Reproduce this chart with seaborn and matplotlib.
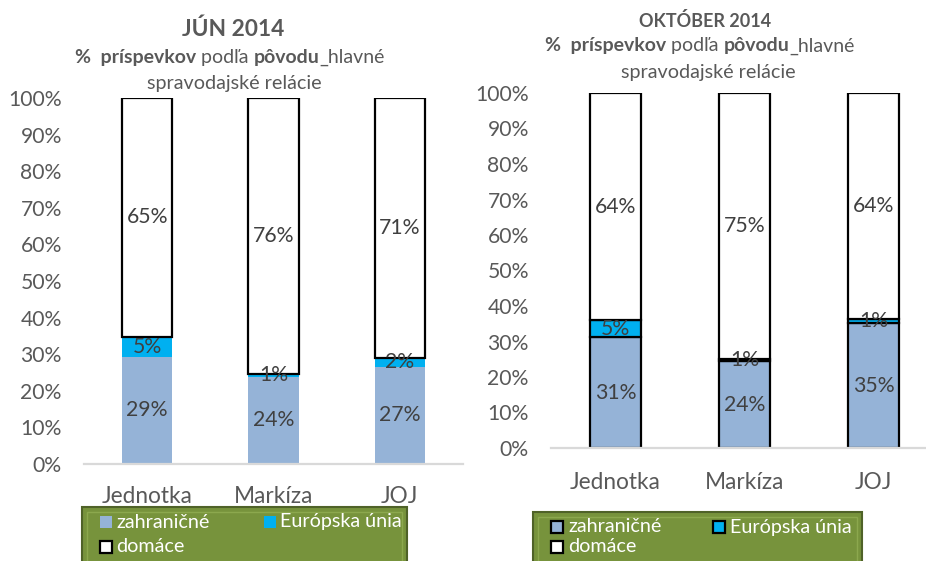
import matplotlib
matplotlib.use("Agg")
import matplotlib.pyplot as plt
import seaborn as sns
import pandas as pd
from matplotlib.patches import Rectangle

# ---------------- data ----------------
categories = ["Jednotka", "Markíza", "JOJ"]
jun_zahranicne = [29.3, 23.9, 26.6]
jun_eu = [5.4, 0.6, 2.3]
jun_domace = [65.3, 75.5, 71.1]
okt_zahranicne = [31.2, 24.4, 35.1]
okt_eu = [4.8, 0.8, 1.3]
okt_domace = [64.0, 74.8, 63.6]
series_names = ["zahraničné", "Európska únia", "domáce"]
ytick_values = [0, 10, 20, 30, 40, 50, 60, 70, 80, 90, 100]
title_jun = "JÚN 2014"
title_okt = "OKTÓBER 2014"

# ---------------- style ----------------
C_ZAHR = "#95B3D7"
C_EU = "#00B0F0"
C_DOM = "#FFFFFF"
TXT = "#595959"
LBL = "#404040"
GREEN = "#77933C"

W, H = 926, 561
sns.set_theme(style="white")
plt.rcParams["font.family"] = ["Lato", "DejaVu Sans"]

fig = plt.figure(figsize=(W / 100, H / 100), dpi=100)
fig.patch.set_facecolor("white")


def fx(x):
    return x / W


def fy(y):
    return 1 - y / H


def add_ax(x0, x1, ytop, ybot):
    return fig.add_axes([fx(x0), fy(ybot), (x1 - x0) / W, (ybot - ytop) / H])


def draw_chart(ax, zahr, eu, dom, edge_all, xpad):
    df = pd.DataFrame({"kanal": categories, "zahr": zahr, "eu": eu, "dom": dom})
    base_eu = df["zahr"].values
    base_dom = (df["zahr"] + df["eu"]).values
    lo_edge = "black" if edge_all else "none"
    lw = 1.6
    sns.barplot(data=df, x="kanal", y="zahr", color=C_ZAHR, saturation=1,
                width=0.4, errorbar=None, ax=ax, edgecolor=lo_edge,
                linewidth=lw if edge_all else 0)
    sns.barplot(data=df, x="kanal", y="eu", bottom=base_eu, color=C_EU,
                saturation=1, width=0.4, errorbar=None, ax=ax,
                edgecolor=lo_edge, linewidth=lw if edge_all else 0)
    sns.barplot(data=df, x="kanal", y="dom", bottom=base_dom, color=C_DOM,
                saturation=1, width=0.4, errorbar=None, ax=ax,
                edgecolor="black", linewidth=lw)
    for cont, vals in zip(ax.containers, [zahr, eu, dom]):
        ax.bar_label(cont, labels=[f"{v:.0f}%" for v in vals],
                     label_type="center", fontsize=15.3, color=LBL)
    ax.set_ylim(0, 100)
    ax.set_xlim(-0.5, 2.5)
    ax.set_yticks(ytick_values)
    ax.set_yticklabels([f"{v}%" for v in ytick_values])
    ax.set_xlabel("")
    ax.set_ylabel("")
    for s in ["top", "right", "left"]:
        ax.spines[s].set_visible(False)
    ax.spines["bottom"].set_color("#D9D9D9")
    ax.spines["bottom"].set_linewidth(1.6)
    ax.tick_params(axis="y", length=0, pad=16, labelsize=15.2, labelcolor=TXT)
    ax.tick_params(axis="x", length=0, pad=xpad, labelsize=16.3, labelcolor=TXT)
    ax.set_facecolor("none")
    ax.grid(False)


ax1 = add_ax(84, 463, 98, 464)
draw_chart(ax1, jun_zahranicne, jun_eu, jun_domace, edge_all=False, xpad=16)
ax2 = add_ax(551, 938, 93, 448)
draw_chart(ax2, okt_zahranicne, okt_eu, okt_domace, edge_all=True, xpad=17)

# ---------------- titles ----------------
fig.text(fx(233), fy(29), title_jun, ha="center", va="center",
         fontsize=16.4, fontweight="bold", color=TXT)
fig.text(fx(705), fy(21), title_okt, ha="center", va="center",
         fontsize=13, fontweight="bold", color=TXT)

sub_parts = [("%  príspevkov", "bold"), (" podľa ", "normal"),
             ("pôvodu", "bold"), ("_hlavné", "normal")]
sub_line2 = "spravodajské relácie"


def mixed_line(xc, yc, size):
    texts = [fig.text(0, fy(yc), t, fontsize=size, fontweight=w, color=TXT,
                      ha="left", va="center") for t, w in sub_parts]
    fig.canvas.draw()
    r = fig.canvas.get_renderer()
    widths = [t.get_window_extent(r).width for t in texts]
    x = xc - sum(widths) / 2
    for t, wd in zip(texts, widths):
        t.set_x(fx(x))
        x += wd


mixed_line(230, 57, 14)
fig.text(fx(234), fy(84), sub_line2, ha="center", va="center",
         fontsize=14.2, color=TXT)
mixed_line(700, 46, 14)
fig.text(fx(708), fy(72), sub_line2, ha="center", va="center",
         fontsize=14.2, color=TXT)

# ---------------- legends ----------------


def legend_box(x0, x1, ytop, markers_edge, col2_x, text_dx):
    ybot = 600
    fig.add_artist(Rectangle((fx(x0), fy(ybot)), (x1 - x0) / W, (ybot - ytop) / H,
                             transform=fig.transFigure, facecolor=GREEN,
                             edgecolor="#4F6228", linewidth=1.5))
    fig.add_artist(Rectangle((fx(x0 + 5), fy(ybot)), (x1 - x0 - 10) / W,
                             (ybot - ytop - 5) / H, transform=fig.transFigure,
                             facecolor="none", edgecolor="#8CA84E", linewidth=1.0))
    entries = [(series_names[0], C_ZAHR, x0 + 18, ytop + 15),
               (series_names[1], C_EU, col2_x, ytop + 15),
               (series_names[2], C_DOM, x0 + 18, min(ytop + 42, 547))]
    for name, col, mx, my in entries:
        edge = "black" if (markers_edge or col == C_DOM) else "none"
        fig.add_artist(Rectangle((fx(mx), fy(my + 6)), 12 / W, 12 / H,
                                 transform=fig.transFigure, facecolor=col,
                                 edgecolor=edge, linewidth=1.6))
        fig.text(fx(mx + text_dx), fy(my), name, ha="left", va="center",
                 fontsize=14.2, color="white")


legend_box(82, 407, 507, False, 264, 16)
legend_box(533, 862, 512, True, 713, 17)

fig.savefig("out.png", dpi=100)
